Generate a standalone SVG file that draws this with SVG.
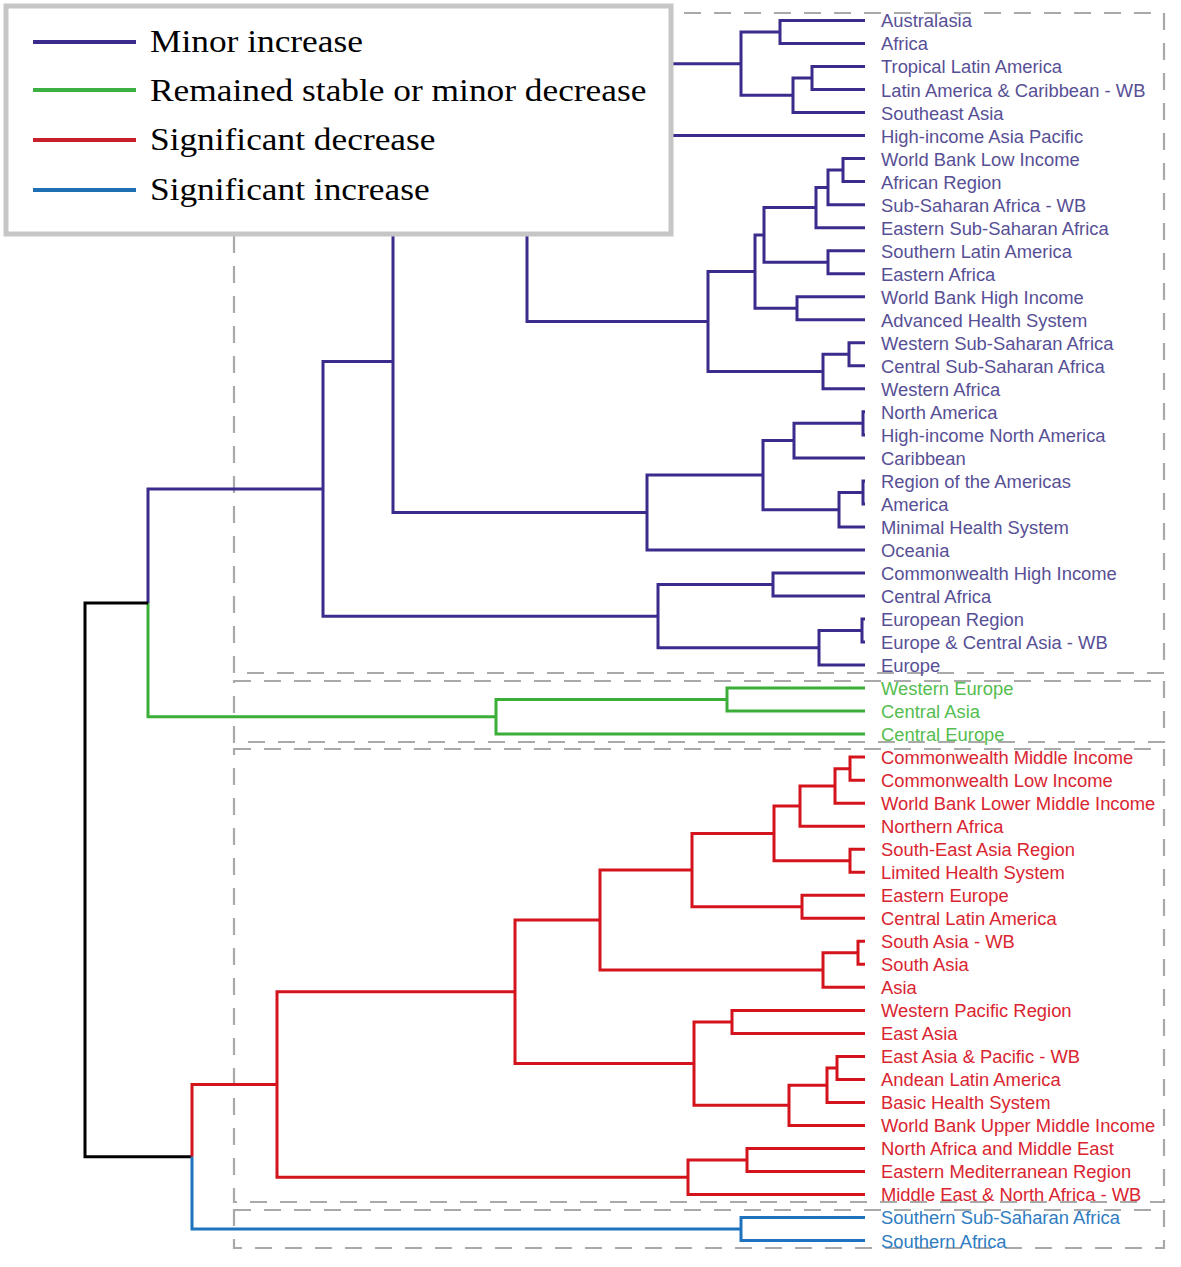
<svg xmlns="http://www.w3.org/2000/svg" width="1181" height="1267" viewBox="0 0 1181 1267">
<style>
.bg{fill:#ffffff}
.box{fill:none;stroke:#a9a9a9;stroke-width:2.2;stroke-dasharray:17 13}
.e{fill:none;stroke-width:3;stroke-linejoin:miter;stroke-linecap:butt}
.ep{stroke:#3b2b8c}
.eg{stroke:#3aae36}
.er{stroke:#d4141c}
.eb{stroke:#1f72bd}
.ek{stroke:#000000}
.lbl text{font-family:"Liberation Sans",Arial,sans-serif;font-size:17.5px}
.tp{fill:#574f95}
.tg{fill:#55bd4f}
.tr{fill:#d92530}
.tb{fill:#2f7cc2}
.leg{fill:#ffffff;stroke:#c6c6c6;stroke-width:5}
.legline{stroke-width:4}
.legtext{font-family:"Liberation Serif","Times New Roman",serif;font-size:31px;fill:#000000}
</style>
<rect class="bg" x="0" y="0" width="1181" height="1267"/>
<g id="cluster-boxes">
<rect class="box" x="234" y="13" width="930" height="660"/>
<rect class="box" x="234" y="681" width="930" height="61"/>
<rect class="box" x="234" y="749" width="930" height="453"/>
<rect class="box" x="234" y="1210" width="930" height="38"/>
</g>
<g id="connectors">
<g class="e ep">
<path d="M865 20.5 H780 V43.5 H865"/>
<path d="M865 66.5 H812 V89.6 H865"/>
<path d="M812 78.05 H793 V112.6 H865"/>
<path d="M780 32 H741 V95.3 H793"/>
<path d="M741 63.7 H600 V135.6 H865"/>
<path d="M865 158.6 H843 V181.6 H865"/>
<path d="M843 170.1 H828 V204.7 H865"/>
<path d="M828 187.4 H816 V227.7 H865"/>
<path d="M865 250.7 H828 V273.7 H865"/>
<path d="M816 207.5 H764 V262.2 H828"/>
<path d="M865 296.7 H797 V319.8 H865"/>
<path d="M764 234.9 H755 V308.2 H797"/>
<path d="M865 342.8 H849 V365.8 H865"/>
<path d="M849 354.3 H823 V388.8 H865"/>
<path d="M755 271.6 H708 V371.6 H823"/>
<path d="M600 99.6 H527 V321.6 H708"/>
<path d="M865 411.8 H863 V434.9 H865"/>
<path d="M863 423.35 H794 V457.9 H865"/>
<path d="M865 480.9 H863 V503.9 H865"/>
<path d="M863 492.4 H839 V526.9 H865"/>
<path d="M794 440.6 H763 V509.65 H839"/>
<path d="M763 475.1 H647 V550 H865"/>
<path d="M527 210.6 H393 V512.6 H647"/>
<path d="M865 573 H773 V596 H865"/>
<path d="M865 619 H862 V642 H865"/>
<path d="M862 630.5 H819 V665.1 H865"/>
<path d="M773 584.5 H658 V647.8 H819"/>
<path d="M393 361.6 H323 V616.15 H658"/>
<path d="M323 488.9 H148 V602.9"/>
</g>
<g class="e eg">
<path d="M865 688.1 H727 V711.1 H865"/>
<path d="M727 699.6 H496 V734.1 H865"/>
<path d="M148 602.9 V716.85 H496"/>
</g>
<g class="e ek">
<path d="M148 602.9 H85 V1156.8 H192"/>
</g>
<g class="e er">
<path d="M865 757.1 H850 V780.2 H865"/>
<path d="M850 768.65 H835 V803.2 H865"/>
<path d="M835 785.9 H800 V826.2 H865"/>
<path d="M865 849.2 H850 V872.2 H865"/>
<path d="M800 806.05 H774 V860.7 H850"/>
<path d="M865 895.3 H802 V918.3 H865"/>
<path d="M774 833.4 H692 V906.8 H802"/>
<path d="M865 941.3 H858 V964.3 H865"/>
<path d="M858 952.8 H823 V987.3 H865"/>
<path d="M692 870.1 H600 V970.05 H823"/>
<path d="M865 1010.4 H732 V1033.4 H865"/>
<path d="M865 1056.4 H837 V1079.4 H865"/>
<path d="M837 1067.9 H827 V1102.4 H865"/>
<path d="M827 1085.15 H789 V1125.5 H865"/>
<path d="M732 1021.9 H694 V1105.3 H789"/>
<path d="M600 920.1 H515 V1063.6 H694"/>
<path d="M865 1148.5 H747 V1171.5 H865"/>
<path d="M747 1160 H688 V1194.5 H865"/>
<path d="M515 991.85 H277 V1177.25 H688"/>
<path d="M277 1084.55 H192 V1156.8"/>
</g>
<g class="e eb">
<path d="M865 1217.5 H741 V1240.6 H865"/>
<path d="M192 1156.8 V1229.05 H741"/>
</g>
</g>
<g class="lbl" transform="matrix(1.05 0 0 1 -44.05 1)">
<g id="leaf-00"><text class="tp" x="881" y="26.5">Australasia</text></g>
<g id="leaf-01"><text class="tp" x="881" y="49.5">Africa</text></g>
<g id="leaf-02"><text class="tp" x="881" y="72.5">Tropical Latin America</text></g>
<g id="leaf-03"><text class="tp" x="881" y="95.6">Latin America &amp; Caribbean - WB</text></g>
<g id="leaf-04"><text class="tp" x="881" y="118.6">Southeast Asia</text></g>
<g id="leaf-05"><text class="tp" x="881" y="141.6">High-income Asia Pacific</text></g>
<g id="leaf-06"><text class="tp" x="881" y="164.6">World Bank Low Income</text></g>
<g id="leaf-07"><text class="tp" x="881" y="187.6">African Region</text></g>
<g id="leaf-08"><text class="tp" x="881" y="210.7">Sub-Saharan Africa - WB</text></g>
<g id="leaf-09"><text class="tp" x="881" y="233.7">Eastern Sub-Saharan Africa</text></g>
<g id="leaf-10"><text class="tp" x="881" y="256.7">Southern Latin America</text></g>
<g id="leaf-11"><text class="tp" x="881" y="279.7">Eastern Africa</text></g>
<g id="leaf-12"><text class="tp" x="881" y="302.7">World Bank High Income</text></g>
<g id="leaf-13"><text class="tp" x="881" y="325.8">Advanced Health System</text></g>
<g id="leaf-14"><text class="tp" x="881" y="348.8">Western Sub-Saharan Africa</text></g>
<g id="leaf-15"><text class="tp" x="881" y="371.8">Central Sub-Saharan Africa</text></g>
<g id="leaf-16"><text class="tp" x="881" y="394.8">Western Africa</text></g>
<g id="leaf-17"><text class="tp" x="881" y="417.8">North America</text></g>
<g id="leaf-18"><text class="tp" x="881" y="440.9">High-income North America</text></g>
<g id="leaf-19"><text class="tp" x="881" y="463.9">Caribbean</text></g>
<g id="leaf-20"><text class="tp" x="881" y="486.9">Region of the Americas</text></g>
<g id="leaf-21"><text class="tp" x="881" y="509.9">America</text></g>
<g id="leaf-22"><text class="tp" x="881" y="532.9">Minimal Health System</text></g>
<g id="leaf-23"><text class="tp" x="881" y="556">Oceania</text></g>
<g id="leaf-24"><text class="tp" x="881" y="579">Commonwealth High Income</text></g>
<g id="leaf-25"><text class="tp" x="881" y="602">Central Africa</text></g>
<g id="leaf-26"><text class="tp" x="881" y="625">European Region</text></g>
<g id="leaf-27"><text class="tp" x="881" y="648">Europe &amp; Central Asia - WB</text></g>
<g id="leaf-28"><text class="tp" x="881" y="671.1">Europe</text></g>
<g id="leaf-29"><text class="tg" x="881" y="694.1">Western Europe</text></g>
<g id="leaf-30"><text class="tg" x="881" y="717.1">Central Asia</text></g>
<g id="leaf-31"><text class="tg" x="881" y="740.1">Central Europe</text></g>
<g id="leaf-32"><text class="tr" x="881" y="763.1">Commonwealth Middle Income</text></g>
<g id="leaf-33"><text class="tr" x="881" y="786.2">Commonwealth Low Income</text></g>
<g id="leaf-34"><text class="tr" x="881" y="809.2">World Bank Lower Middle Income</text></g>
<g id="leaf-35"><text class="tr" x="881" y="832.2">Northern Africa</text></g>
<g id="leaf-36"><text class="tr" x="881" y="855.2">South-East Asia Region</text></g>
<g id="leaf-37"><text class="tr" x="881" y="878.2">Limited Health System</text></g>
<g id="leaf-38"><text class="tr" x="881" y="901.3">Eastern Europe</text></g>
<g id="leaf-39"><text class="tr" x="881" y="924.3">Central Latin America</text></g>
<g id="leaf-40"><text class="tr" x="881" y="947.3">South Asia - WB</text></g>
<g id="leaf-41"><text class="tr" x="881" y="970.3">South Asia</text></g>
<g id="leaf-42"><text class="tr" x="881" y="993.3">Asia</text></g>
<g id="leaf-43"><text class="tr" x="881" y="1016.4">Western Pacific Region</text></g>
<g id="leaf-44"><text class="tr" x="881" y="1039.4">East Asia</text></g>
<g id="leaf-45"><text class="tr" x="881" y="1062.4">East Asia &amp; Pacific - WB</text></g>
<g id="leaf-46"><text class="tr" x="881" y="1085.4">Andean Latin America</text></g>
<g id="leaf-47"><text class="tr" x="881" y="1108.4">Basic Health System</text></g>
<g id="leaf-48"><text class="tr" x="881" y="1131.5">World Bank Upper Middle Income</text></g>
<g id="leaf-49"><text class="tr" x="881" y="1154.5">North Africa and Middle East</text></g>
<g id="leaf-50"><text class="tr" x="881" y="1177.5">Eastern Mediterranean Region</text></g>
<g id="leaf-51"><text class="tr" x="881" y="1200.5">Middle East &amp; North Africa - WB</text></g>
<g id="leaf-52"><text class="tb" x="881" y="1223.5">Southern Sub-Saharan Africa</text></g>
<g id="leaf-53"><text class="tb" x="881" y="1246.6">Southern Africa</text></g>
</g>
<g id="legend">
<rect class="leg" x="6" y="6" width="665" height="228"/>
<line class="legline ep" x1="33" y1="42" x2="136" y2="42"/>
<line class="legline" stroke="#3cb043" x1="33" y1="90" x2="136" y2="90"/>
<line class="legline" stroke="#c8202a" x1="33" y1="140" x2="136" y2="140"/>
<line class="legline" stroke="#1f6fb5" x1="33" y1="190" x2="136" y2="190"/>
<g transform="matrix(1.14 0 0 1 -21 0)">
<text class="legtext" x="150" y="52">Minor increase</text>
<text class="legtext" x="150" y="101">Remained stable or minor decrease</text>
<text class="legtext" x="150" y="150">Significant decrease</text>
<text class="legtext" x="150" y="200">Significant increase</text>
</g>
</g>
</svg>
